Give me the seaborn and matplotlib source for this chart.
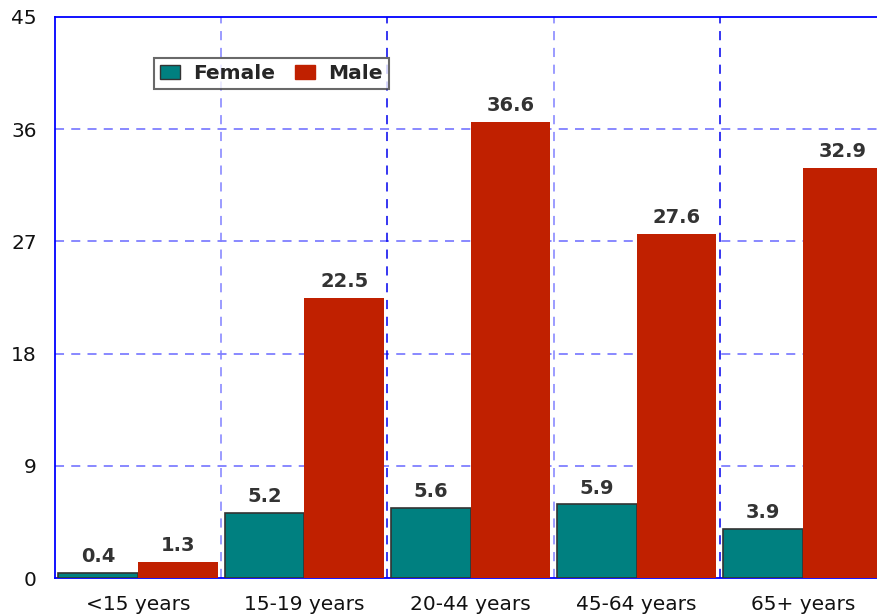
import pandas as pd
import matplotlib
matplotlib.use("Agg")
import matplotlib.pyplot as plt
import seaborn as sns

# data
age_groups = ["<15 years", "15-19 years", "20-44 years", "45-64 years", "65+ years"]
female = [0.4, 5.2, 5.6, 5.9, 3.9]
male = [1.3, 22.5, 36.6, 27.6, 32.9]
y_ticks = [0, 9, 18, 27, 36, 45]

df = pd.DataFrame({
    "age": age_groups * 2,
    "sex": ["Female"] * len(female) + ["Male"] * len(male),
    "value": female + male,
})

sns.set_style("white")
plt.rcParams["font.family"] = ["DejaVu Sans"]

fig = plt.figure(figsize=(8.78, 6.16), dpi=100)
ax = fig.add_axes([55 / 878, 38 / 616, 831 / 878, 561 / 616])

sns.barplot(
    data=df, x="age", y="value", hue="sex",
    palette={"Female": "#008080", "Male": "#c02000"},
    width=0.96, saturation=1, ax=ax, zorder=3,
)

# teal bars have a dark outline, red ones none
for bar in ax.containers[0]:
    bar.set_edgecolor("#333333")
    bar.set_linewidth(1.2)
for bar in ax.containers[1]:
    bar.set_edgecolor("#c02000")
    bar.set_linewidth(0)

for cont in ax.containers:
    ax.bar_label(cont, fmt="%.1f", padding=5, fontsize=14,
                 fontweight="bold", color="#333333")

ax.set_xlim(-0.5, len(age_groups) - 0.5)
ax.set_ylim(0, 45)
ax.set_yticks(y_ticks)
ax.set_xlabel("")
ax.set_ylabel("")
ax.tick_params(axis="both", length=0, labelsize=14.5, colors="#111111")
ax.tick_params(axis="x", pad=12)
ax.tick_params(axis="y", pad=13)

# dashed grid
for y in y_ticks[1:-1]:
    ax.axhline(y, color="#7f7fff", ls=(0, (5, 4)), lw=1.3, zorder=1)
for i in range(len(age_groups) - 1):
    col = "#8080ff" if i % 2 == 0 else "#0000ee"
    ax.axvline(i + 0.5, color=col, ls=(0, (6, 5)), lw=1.1, zorder=1)

for side in ["left", "bottom", "top"]:
    ax.spines[side].set_color("#0000ff")
    ax.spines[side].set_linewidth(1.3)
ax.spines["right"].set_visible(False)

leg = ax.legend(
    loc="upper left", bbox_to_anchor=(0.119, 0.927), ncol=2,
    borderaxespad=0, frameon=True, fancybox=False, edgecolor="#444444",
    prop={"weight": "bold", "size": 14.5}, handlelength=1.0,
    handleheight=0.7, columnspacing=1.0, handletextpad=0.65,
    borderpad=0.3, title=None,
)
leg.get_frame().set_linewidth(1.5)
for patch in leg.get_patches():
    patch.set_edgecolor("#333333")
    patch.set_linewidth(1)
leg.get_patches()[1].set_edgecolor("#c02000")

fig.savefig("out.png", dpi=100)
